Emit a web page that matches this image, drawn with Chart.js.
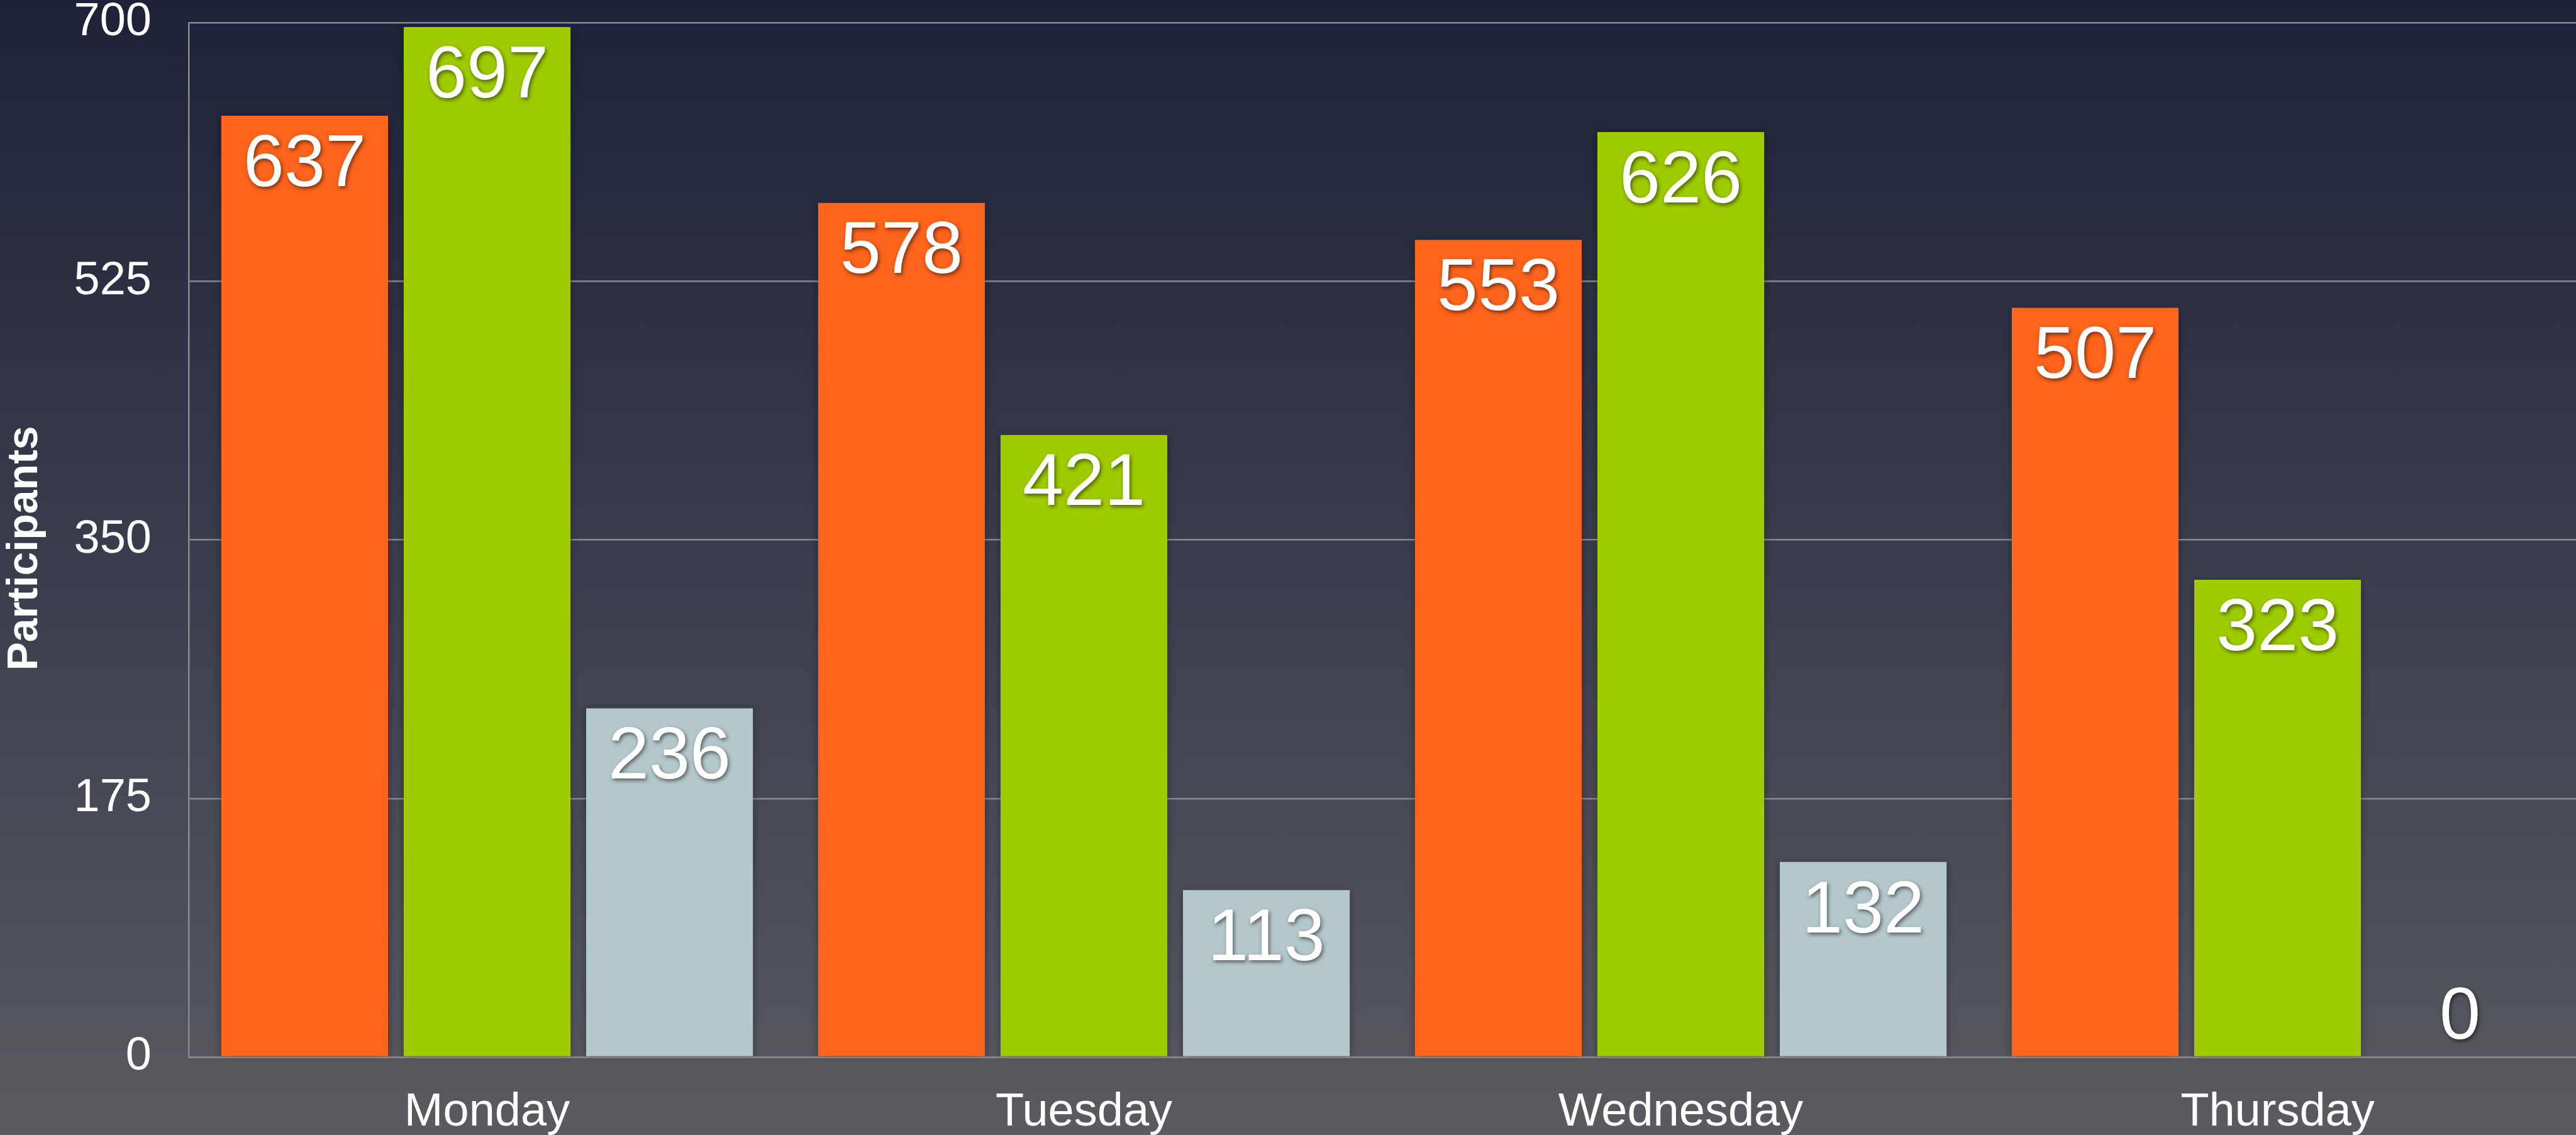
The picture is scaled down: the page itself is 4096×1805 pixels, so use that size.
<!DOCTYPE html>
<html>
<head>
<meta charset="utf-8">
<title>Participants</title>
<script src="https://cdn.jsdelivr.net/npm/chart.js@4/dist/chart.umd.min.js"></script>
<style>
  html, body {
    margin: 0;
    padding: 0;
    width: 4096px;
    height: 1805px;
    overflow: hidden;
    background: linear-gradient(to bottom, #1e2238 0%, #3a3d4c 50%, #5a5b60 100%);
  }
  #wrap {
    position: relative;
    width: 4096px;
    height: 1805px;
  }
</style>
</head>
<body>
<div id="wrap"><canvas id="chart"></canvas></div>
<script>
//data
const days = ["Monday", "Tuesday", "Wednesday", "Thursday"];
const orangeValues = [637, 578, 553, 507];
const greenValues = [697, 421, 626, 323];
const greyValues = [236, 113, 132, 0];
const yTicks = [0, 175, 350, 525, 700];
const yTitle = "Participants";

const font = "'Liberation Sans', Arial, Helvetica, sans-serif";

//soft shadow under the bars
const barShadow = {
  id: "barShadow",
  beforeDatasetDraw(chart) {
    const ctx = chart.ctx;
    ctx.save();
    ctx.shadowColor = "rgba(0,0,0,0.35)";
    ctx.shadowBlur = 12;
    ctx.shadowOffsetX = 0;
    ctx.shadowOffsetY = 2;
  },
  afterDatasetDraw(chart) {
    chart.ctx.restore();
  },
};

//value labels inside the top of each bar (above it when the value is 0)
const valueLabels = {
  id: "valueLabels",
  afterDatasetsDraw(chart) {
    const ctx = chart.ctx;
    const size = 117;
    ctx.save();
    ctx.font = size + "px " + font;
    ctx.textAlign = "center";
    ctx.textBaseline = "alphabetic";
    ctx.fillStyle = "#ffffff";
    ctx.shadowColor = "rgba(0,0,0,0.55)";
    ctx.shadowBlur = 6;
    ctx.shadowOffsetX = 2;
    ctx.shadowOffsetY = 3;
    chart.data.datasets.forEach((ds, i) => {
      const meta = chart.getDatasetMeta(i);
      meta.data.forEach((bar, j) => {
        const v = ds.data[j];
        let y;
        if (v > 0) {
          y = bar.y + 28 + size * 0.716;
        } else {
          y = bar.y - 29;
        }
        ctx.fillText(String(v), bar.x, y);
      });
    });
    ctx.restore();
  },
};

//rotated axis title
const axisTitle = {
  id: "axisTitle",
  afterDraw(chart) {
    const ctx = chart.ctx;
    ctx.save();
    ctx.translate(40, 872);
    ctx.rotate(-Math.PI / 2);
    ctx.font = "bold 68px " + font;
    ctx.fillStyle = "#ffffff";
    ctx.textAlign = "center";
    ctx.textBaseline = "middle";
    ctx.fillText(yTitle, 0, 0);
    ctx.restore();
  },
};

const ctx = document.getElementById("chart").getContext("2d");
const myChart = new Chart(ctx, {
  type: "bar",
  data: {
    labels: days,
    datasets: [
      {
        label: "Series 1",
        data: orangeValues,
        backgroundColor: "#ff641c",
        borderWidth: 0,
      },
      {
        label: "Series 2",
        data: greenValues,
        backgroundColor: "#9ecc00",
        borderWidth: 0,
      },
      {
        label: "Series 3",
        data: greyValues,
        backgroundColor: "#b4c8cb",
        borderWidth: 0,
      },
    ],
  },
  options: {
    responsive: true,
    maintainAspectRatio: false,
    animation: false,
    devicePixelRatio: 1,
    categoryPercentage: 0.917,
    barPercentage: 0.914,
    layout: {
      padding: { top: 36, right: 0, bottom: 0, left: 0 },
    },
    plugins: {
      legend: { display: false },
      tooltip: { enabled: false },
    },
    scales: {
      x: {
        grid: { display: false },
        border: { display: true, color: "#8a8a8a", width: 2.5 },
        ticks: {
          color: "#ffffff",
          font: { family: font, size: 74 },
          padding: 36,
        },
        afterFit(scale) {
          scale.height = 124;
        },
      },
      y: {
        min: 0,
        max: 700,
        afterBuildTicks(scale) {
          scale.ticks = yTicks.map((v) => ({ value: v }));
        },
        grid: {
          color: "#8a8a8a",
          lineWidth: 2.5,
          drawTicks: false,
        },
        border: { display: true, color: "#8a8a8a", width: 2.5 },
        ticks: {
          color: "#ffffff",
          font: { family: font, size: 74 },
          padding: 59,
        },
        afterFit(scale) {
          scale.width = 300;
          //let the layout padding decide the top of the plot
          scale.paddingTop = 0;
          scale.paddingBottom = 0;
        },
      },
    },
  },
  plugins: [barShadow, valueLabels, axisTitle],
});
</script>
</body>
</html>
